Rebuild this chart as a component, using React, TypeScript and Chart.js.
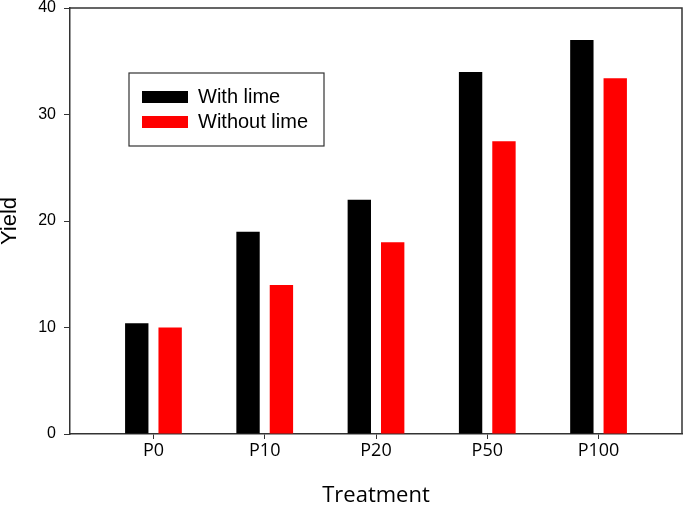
import { useEffect, useRef } from "react";
import { Chart, registerables } from "chart.js";

Chart.register(...registerables);

const treatments = ["P0", "P10", "P20", "P50", "P100"];
const withLime = [10.4, 19, 22, 34, 37];
const withoutLime = [10, 14, 18, 27.5, 33.4];
const yTicks = [0, 10, 20, 30, 40];

// top/right frame lines and the boxed legend inside the plot
const framePlugin = {
  id: "frame",
  afterDraw(chart: any) {
    const { ctx, chartArea: a } = chart;
    ctx.save();
    ctx.strokeStyle = "#333";
    ctx.lineWidth = 1.5;
    ctx.beginPath();
    ctx.moveTo(a.left, a.top);
    ctx.lineTo(a.right, a.top);
    ctx.lineTo(a.right, a.bottom);
    ctx.stroke();

    const boxX = a.left + 59;
    const boxY = a.top + 65;
    ctx.lineWidth = 1.2;
    ctx.strokeStyle = "#333";
    ctx.fillStyle = "#fff";
    ctx.fillRect(boxX, boxY, 195, 73);
    ctx.strokeRect(boxX, boxY, 195, 73);

    ctx.font = '20px "Liberation Sans", Arial, sans-serif';
    ctx.textBaseline = "middle";
    ctx.textAlign = "left";
    chart.data.datasets.forEach((ds: any, i: number) => {
      const rowY = boxY + 18 + i * 25;
      ctx.fillStyle = ds.backgroundColor;
      ctx.fillRect(boxX + 13, rowY, 46, 12);
      ctx.fillStyle = "#000";
      ctx.fillText(ds.label, boxX + 69, rowY + 6.5);
    });
    ctx.restore();
  },
};

export default function App() {
  const canvasRef = useRef<HTMLCanvasElement | null>(null);
  const chartRef = useRef<Chart | null>(null);

  useEffect(() => {
    document.body.style.margin = "0";
    const canvas = canvasRef.current;
    if (!canvas) {
      return;
    }

    chartRef.current?.destroy();

    chartRef.current = new Chart(canvas, {
      type: "bar",
      data: {
        datasets: [
          {
            label: "With lime",
            data: withLime.map((y, i) => ({ x: i, y })),
            backgroundColor: "#000000",
            borderWidth: 0,
            categoryPercentage: 0.6,
            barPercentage: 0.7,
          },
          {
            label: "Without lime",
            data: withoutLime.map((y, i) => ({ x: i, y })),
            backgroundColor: "#ff0000",
            borderWidth: 0,
            categoryPercentage: 0.6,
            barPercentage: 0.7,
          },
        ],
      },
      options: {
        animation: false,
        responsive: true,
        maintainAspectRatio: false,
        layout: {
          padding: { top: 8, right: 3, left: 0, bottom: 0 },
        },
        plugins: {
          legend: { display: false },
          tooltip: { enabled: false },
        },
        scales: {
          x: {
            type: "linear",
            min: -0.75,
            max: 4.75,
            offset: false,
            afterBuildTicks: (scale: any) => {
              scale.ticks = treatments.map((_, i) => ({ value: i }));
            },
            afterFit: (scale: any) => {
              scale.height = 72;
              scale.paddingLeft = 0;
              scale.paddingRight = 0;
            },
            grid: {
              offset: false,
              drawOnChartArea: false,
              drawTicks: true,
              tickLength: 5,
              color: "#333",
            },
            border: { display: true, color: "#333", width: 1.5 },
            ticks: {
              padding: 3,
              color: "#000",
              font: { family: '"Open Sans", sans-serif', size: 18, lineHeight: 1 },
              callback: (value: any) => treatments[Number(value)] ?? "",
            },
            title: {
              display: true,
              text: "Treatment",
              color: "#000",
              padding: 0,
              font: { family: '"Open Sans", sans-serif', size: 22, lineHeight: 0.95 },
            },
          },
          y: {
            min: 0,
            max: 40,
            afterBuildTicks: (scale: any) => {
              scale.ticks = yTicks.map((value) => ({ value }));
            },
            afterFit: (scale: any) => {
              scale.width = 70;
              scale.paddingTop = 0;
              scale.paddingBottom = 0;
            },
            grid: {
              drawOnChartArea: false,
              drawTicks: true,
              tickLength: 6,
              color: "#333",
            },
            border: { display: true, color: "#333", width: 1.5 },
            ticks: {
              padding: 8,
              color: "#000",
              font: { family: '"Liberation Sans", Arial, sans-serif', size: 16, lineHeight: 1 },
            },
            title: {
              display: true,
              text: "Yield",
              color: "#000",
              padding: 0,
              font: { family: '"Liberation Sans", Arial, sans-serif', size: 22, lineHeight: 0.91 },
            },
          },
        },
      },
      plugins: [framePlugin],
    });

    return () => {
      chartRef.current?.destroy();
    };
  }, []);

  return (
    <div style={{ width: 685, height: 506, position: "relative" }}>
      <canvas ref={canvasRef} />
    </div>
  );
}
